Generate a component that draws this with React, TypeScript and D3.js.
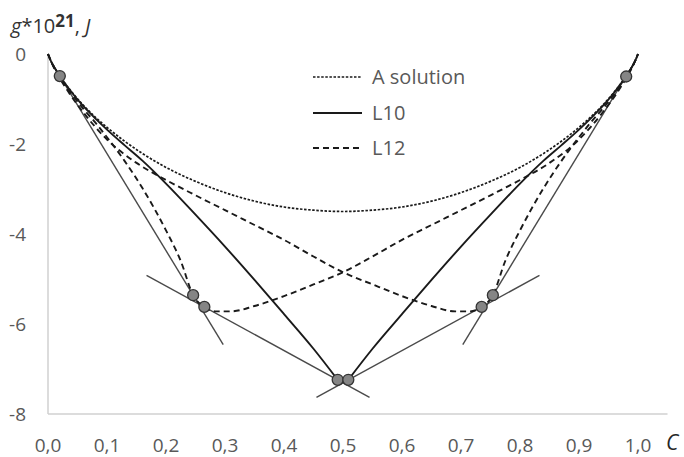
import React from "react";
import * as d3 from "d3";

// Free energy of the disordered solution
const cSolution = [0, 0.005, 0.01, 0.02, 0.04, 0.06, 0.08, 0.1, 0.13, 0.16, 0.2, 0.25, 0.3, 0.35, 0.4, 0.45, 0.5, 0.55, 0.6, 0.65, 0.7, 0.75, 0.8, 0.84, 0.87, 0.9, 0.92, 0.94, 0.96, 0.98, 0.99, 0.995, 1];
const gSolution = [0, -0.16, -0.28, -0.49, -0.84, -1.14, -1.4, -1.63, -1.94, -2.21, -2.52, -2.83, -3.08, -3.27, -3.4, -3.47, -3.5, -3.47, -3.4, -3.27, -3.08, -2.83, -2.52, -2.21, -1.94, -1.63, -1.4, -1.14, -0.84, -0.49, -0.28, -0.16, 0];

// L1_0 ordered phase: branch from the A side and branch from the B side
const cL10Left = [0, 0.005, 0.01, 0.02, 0.04, 0.06, 0.08, 0.1, 0.13, 0.16, 0.2, 0.25, 0.3, 0.35, 0.4, 0.45, 0.491];
const gL10Left = [0, -0.16, -0.28, -0.49, -0.85, -1.16, -1.43, -1.68, -2.03, -2.37, -2.88, -3.57, -4.28, -5.02, -5.78, -6.55, -7.24];
const cL10Right = [0.509, 0.55, 0.6, 0.65, 0.7, 0.75, 0.8, 0.84, 0.87, 0.9, 0.92, 0.94, 0.96, 0.98, 0.99, 0.995, 1];
const gL10Right = [-7.24, -6.55, -5.78, -5.02, -4.28, -3.57, -2.88, -2.37, -2.03, -1.68, -1.43, -1.16, -0.85, -0.49, -0.28, -0.16, 0];

// L1_2 ordered phase, A3B side
const cL12a = [0, 0.005, 0.01, 0.02, 0.04, 0.06, 0.08, 0.1, 0.13, 0.16, 0.2, 0.225, 0.246, 0.265, 0.285, 0.31, 0.35, 0.4, 0.45, 0.5, 0.55, 0.6, 0.65, 0.7, 0.75, 0.8, 0.85, 0.9, 0.94, 0.97, 0.99, 1];
const gL12a = [0, -0.16, -0.29, -0.5, -0.88, -1.22, -1.52, -1.85, -2.38, -2.98, -3.92, -4.6, -5.36, -5.62, -5.72, -5.72, -5.6, -5.38, -5.12, -4.85, -4.5, -4.13, -3.8, -3.47, -3.14, -2.8, -2.42, -1.9, -1.3, -0.75, -0.3, 0];

// L1_2 ordered phase, AB3 side
const cL12b = [0, 0.01, 0.03, 0.06, 0.1, 0.15, 0.2, 0.25, 0.3, 0.35, 0.4, 0.45, 0.5, 0.55, 0.6, 0.65, 0.69, 0.715, 0.735, 0.754, 0.775, 0.8, 0.84, 0.87, 0.9, 0.92, 0.94, 0.96, 0.98, 0.99, 0.995, 1];
const gL12b = [0, -0.3, -0.75, -1.3, -1.9, -2.42, -2.8, -3.14, -3.47, -3.8, -4.13, -4.5, -4.85, -5.12, -5.38, -5.6, -5.72, -5.72, -5.62, -5.36, -4.6, -3.92, -2.98, -2.38, -1.85, -1.52, -1.22, -0.88, -0.5, -0.29, -0.16, 0];

// Common tangents (start / end)
const tangentC = [[0.008, 0.297], [0.167, 0.545], [0.455, 0.833], [0.992, 0.703]];
const tangentG = [[-0.23, -6.46], [-4.92, -7.63], [-7.63, -4.92], [-0.23, -6.46]];

// Tangency points
const pointC = [0.02, 0.246, 0.265, 0.491, 0.509, 0.735, 0.754, 0.98];
const pointG = [-0.49, -5.36, -5.62, -7.24, -7.24, -5.62, -5.36, -0.5];

const xTicks = [0, 0.1, 0.2, 0.3, 0.4, 0.5, 0.6, 0.7, 0.8, 0.9, 1.0];
const yTicks = [0, -2, -4, -6, -8];

const legendNames = ["A solution", "L10", "L12"];

const W = 684;
const H = 457;
const FONT = "'Open Sans', 'Noto Sans', sans-serif";

export default function App() {
  const x = d3.scaleLinear().domain([0, 1.05]).range([48, 667.5]);
  const y = d3.scaleLinear().domain([-8, 0]).range([414, 54]);

  const line = d3
    .line<[number, number]>()
    .x((d) => x(d[0]))
    .y((d) => y(d[1]))
    .curve(d3.curveMonotoneX);

  const zip = (cs: number[], gs: number[]) => cs.map((c, i) => [c, gs[i]] as [number, number]);

  const solid = { fill: "none", stroke: "#1a1a1a", strokeWidth: 1.9 };
  const dotted = { ...solid, strokeDasharray: "2.5 1.6", strokeWidth: 1.7 };
  const dashed = { ...solid, strokeDasharray: "6 4", strokeWidth: 1.9 };
  const styles = [dotted, solid, dashed];

  const legendX0 = 313;
  const legendX1 = 362;
  const legendY = [77, 113, 148];

  return (
    <svg
      width={W}
      height={H}
      style={{ position: "absolute", left: 0, top: 0, background: "#fff" }}
      fontFamily={FONT}
    >
      {/* axes */}
      <line x1={x(0)} x2={x(0)} y1={y(0)} y2={y(-8)} stroke="#d0d0d0" strokeWidth={1.5} />
      <line x1={x(0)} x2={x(1.05)} y1={y(-8)} y2={y(-8)} stroke="#d0d0d0" strokeWidth={1.5} />

      {yTicks.map((t) => (
        <text key={"y" + t} x={26} y={y(t)} dy="0.35em" textAnchor="end" fontSize={19} fill="#595959">
          {t === 0 ? "0" : "-" + Math.abs(t)}
        </text>
      ))}
      {xTicks.map((t) => (
        <text key={"x" + t} x={x(t)} y={445} dy="0.35em" textAnchor="middle" fontSize={19} fill="#595959">
          {t.toFixed(1).replace(".", ",")}
        </text>
      ))}
      <text x={666} y={443} dy="0.35em" fontSize={21} fontStyle="italic" fill="#262626">
        C
      </text>

      {/* y-axis title */}
      <text x={11} y={33} fontSize={20} fill="#333">
        <tspan fontStyle="italic">g</tspan>
        <tspan>*10</tspan>
        <tspan fontWeight="bold" fontSize={17} dy={-6}>21</tspan>
        <tspan dy={6}>, </tspan>
        <tspan fontStyle="italic">J</tspan>
      </text>

      {/* tangent lines */}
      {tangentC.map((cs, i) => (
        <line
          key={"t" + i}
          x1={x(cs[0])}
          y1={y(tangentG[i][0])}
          x2={x(cs[1])}
          y2={y(tangentG[i][1])}
          stroke="#4a4a4a"
          strokeWidth={1.4}
        />
      ))}

      {/* phase curves */}
      <path d={line(zip(cSolution, gSolution)) || ""} {...dotted} />
      <path d={line(zip(cL12a, gL12a)) || ""} {...dashed} />
      <path d={line(zip(cL12b, gL12b)) || ""} {...dashed} />
      <path d={line(zip(cL10Left, gL10Left)) || ""} {...solid} />
      <path d={line(zip(cL10Right, gL10Right)) || ""} {...solid} />

      {/* tangency points */}
      {pointC.map((c, i) => (
        <circle
          key={"p" + i}
          cx={x(c)}
          cy={y(pointG[i])}
          r={5.5}
          fill="#858585"
          stroke="#333"
          strokeWidth={1.3}
        />
      ))}

      {/* legend */}
      {legendNames.map((name, i) => (
        <g key={name}>
          <line x1={legendX0} x2={legendX1} y1={legendY[i]} y2={legendY[i]} {...styles[i]} />
          <text x={372} y={legendY[i]} dy="0.35em" fontSize={20} fill="#595959">
            {name}
          </text>
        </g>
      ))}
    </svg>
  );
}
